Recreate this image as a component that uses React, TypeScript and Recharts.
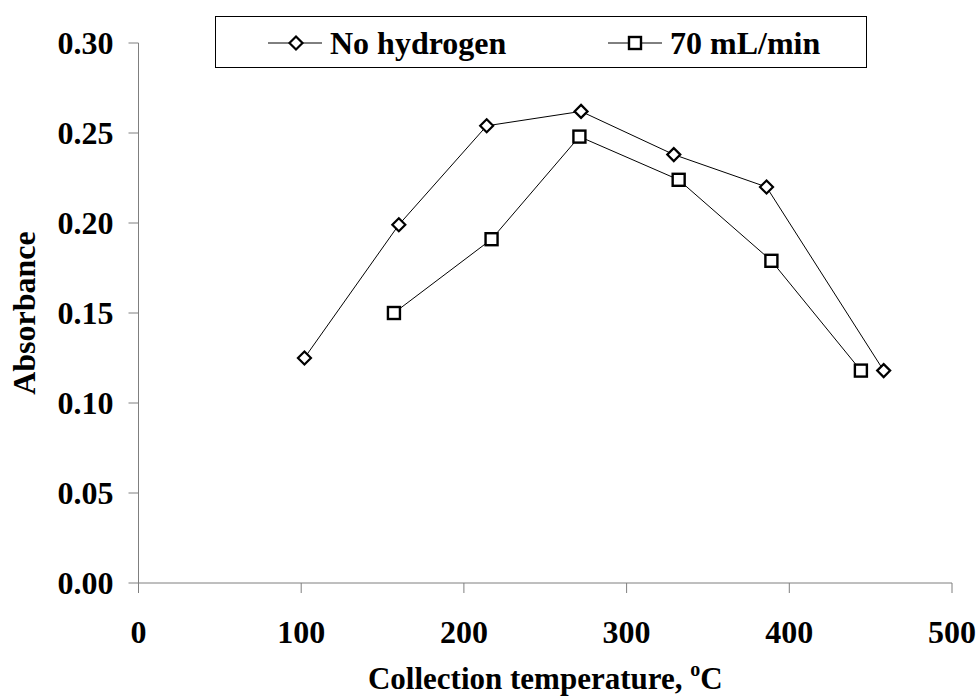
import React from 'react';
import { LineChart, Line, XAxis, YAxis } from 'recharts';

const noHydrogenTemp = [102, 160, 214, 272, 329, 386, 458];
const noHydrogenAbs = [0.125, 0.199, 0.254, 0.262, 0.238, 0.22, 0.118];
const h70Temp = [157, 217, 271, 332, 389, 444];
const h70Abs = [0.15, 0.191, 0.248, 0.224, 0.179, 0.118];
const xTicks = [0, 100, 200, 300, 400, 500];
const yTicks = [0, 0.05, 0.1, 0.15, 0.2, 0.25, 0.3];

const noHydrogen = noHydrogenTemp.map((x, i) => ({ x, y: noHydrogenAbs[i] }));
const h70 = h70Temp.map((x, i) => ({ x, y: h70Abs[i] }));

const FONT = '"Liberation Serif", "Times New Roman", serif';
const AXIS = '#7f7f7f';
const FS = 32;

const Diamond = (props: any) => {
  const { cx, cy } = props;
  if (cx == null || cy == null) return null;
  const r = 6.5;
  return (
    <polygon
      key={`d-${cx}`}
      points={`${cx},${cy - r} ${cx + r},${cy} ${cx},${cy + r} ${cx - r},${cy}`}
      fill="#fff"
      stroke="#000"
      strokeWidth={2.2}
    />
  );
};

const Square = (props: any) => {
  const { cx, cy } = props;
  if (cx == null || cy == null) return null;
  const s = 12;
  return (
    <rect
      key={`s-${cx}`}
      x={cx - s / 2}
      y={cy - s / 2}
      width={s}
      height={s}
      fill="#fff"
      stroke="#000"
      strokeWidth={2.4}
    />
  );
};

const textStyle: React.CSSProperties = {
  position: 'absolute',
  top: 9,
  lineHeight: '34px',
  whiteSpace: 'nowrap',
};

// legend box, page coordinates
const LegendBox = () => (
  <div
    style={{
      position: 'absolute',
      left: 215,
      top: 16,
      width: 652,
      height: 52,
      border: '1px solid #000',
      background: '#fff',
      boxSizing: 'border-box',
      fontFamily: FONT,
      fontWeight: 'bold',
      fontSize: FS,
    }}
  >
    <svg width={56} height={20} style={{ position: 'absolute', left: 52, top: 16 }}>
      <line x1={0} y1={10} x2={54} y2={10} stroke="#000" strokeWidth={1} />
      <Diamond cx={28} cy={10} />
    </svg>
    <span style={{ ...textStyle, left: 114 }}>No hydrogen</span>
    <svg width={56} height={20} style={{ position: 'absolute', left: 392, top: 16 }}>
      <line x1={0} y1={10} x2={54} y2={10} stroke="#000" strokeWidth={1} />
      <Square cx={27} cy={10} />
    </svg>
    <span style={{ ...textStyle, left: 454 }}>70 mL/min</span>
  </div>
);

const XTitle = (props: any) => {
  const { viewBox } = props;
  return (
    <text
      x={viewBox.x + viewBox.width / 2}
      y={viewBox.y + 106}
      textAnchor="middle"
      fontFamily={FONT}
      fontWeight="bold"
      fontSize={31}
      fill="#000"
    >
      Collection temperature,{' '}
      <tspan fontSize={20} dy={-13}>o</tspan>
      <tspan dy={13}>C</tspan>
    </text>
  );
};

const YTitle = (props: any) => {
  const { viewBox } = props;
  const x = viewBox.x - 3.5;
  const y = viewBox.y + viewBox.height / 2;
  return (
    <text
      x={x}
      y={y}
      transform={`rotate(-90, ${x}, ${y})`}
      textAnchor="middle"
      fontFamily={FONT}
      fontWeight="bold"
      fontSize={FS}
      fill="#000"
    >
      Absorbance
    </text>
  );
};

export default function App() {
  return (
    <div style={{ position: 'absolute', left: 0, top: 0, width: 977, height: 697 }}>
      <LineChart
        width={977}
        height={697}
        margin={{ top: 43, right: 25, bottom: 14, left: 38.5 }}
      >
        <XAxis
          type="number"
          dataKey="x"
          domain={[0, 500]}
          ticks={xTicks}
          allowDataOverflow
          stroke={AXIS}
          tickSize={10}
          tickMargin={27}
          height={100}
          tick={{ fill: '#000', fontFamily: FONT, fontWeight: 'bold', fontSize: FS }}
          label={<XTitle />}
        />
        <YAxis
          type="number"
          domain={[0, 0.3]}
          ticks={yTicks}
          allowDataOverflow
          stroke={AXIS}
          tickSize={10}
          tickMargin={15}
          width={100}
          tickFormatter={(v: number) => v.toFixed(2)}
          tick={{ fill: '#000', fontFamily: FONT, fontWeight: 'bold', fontSize: FS }}
          label={<YTitle />}
        />
        <Line
          data={noHydrogen}
          dataKey="y"
          name="No hydrogen"
          stroke="#000"
          strokeWidth={1}
          dot={<Diamond />}
          activeDot={false}
          isAnimationActive={false}
        />
        <Line
          data={h70}
          dataKey="y"
          name="70 mL/min"
          stroke="#000"
          strokeWidth={1}
          dot={<Square />}
          activeDot={false}
          isAnimationActive={false}
        />
      </LineChart>
      <LegendBox />
    </div>
  );
}
